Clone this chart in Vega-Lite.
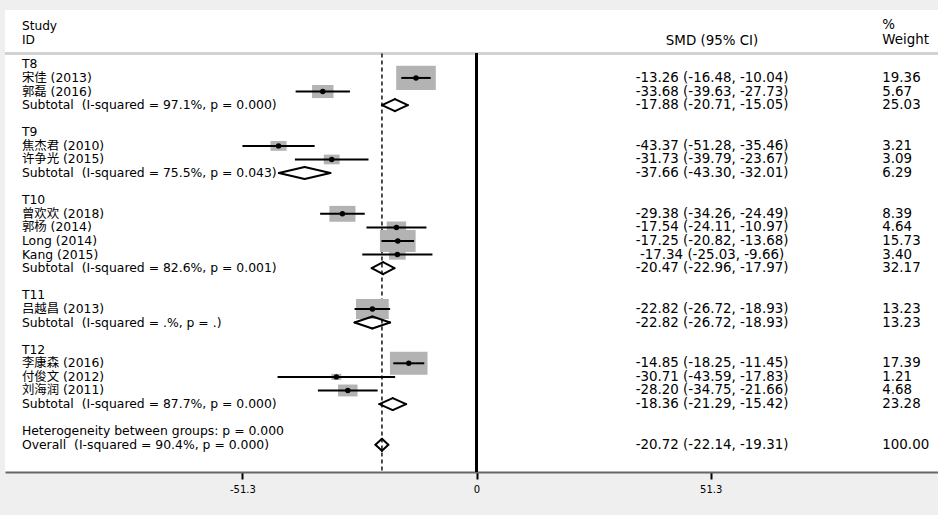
{
  "$schema": "https://vega.github.io/schema/vega-lite/v6.json",
  "width": 933,
  "height": 462,
  "autosize": "none",
  "padding": {"left": 5, "top": 10, "right": 0, "bottom": 43},
  "background": "#efefef",
  "config": {"view": {"fill": "white", "stroke": null}},
  "datasets": {
    "rows": [
      {"row": 0, "type": "group", "label": "T8"},
      {"row": 1, "type": "study", "label": "宋佳 (2013)", "es": -13.26, "lci": -16.48, "uci": -10.04, "w": 19.36, "smd": "-13.26 (-16.48, -10.04)"},
      {"row": 2, "type": "study", "label": "郭磊 (2016)", "es": -33.68, "lci": -39.63, "uci": -27.73, "w": 5.67, "smd": "-33.68 (-39.63, -27.73)"},
      {"row": 3, "type": "subtotal", "label": "Subtotal \u00a0(I-squared = 97.1%, p = 0.000)", "es": -17.88, "lci": -20.71, "uci": -15.05, "w": 25.03, "smd": "-17.88 (-20.71, -15.05)"},
      {"row": 5, "type": "group", "label": "T9"},
      {"row": 6, "type": "study", "label": "焦杰君 (2010)", "es": -43.37, "lci": -51.28, "uci": -35.46, "w": 3.21, "smd": "-43.37 (-51.28, -35.46)"},
      {"row": 7, "type": "study", "label": "许争光 (2015)", "es": -31.73, "lci": -39.79, "uci": -23.67, "w": 3.09, "smd": "-31.73 (-39.79, -23.67)"},
      {"row": 8, "type": "subtotal", "label": "Subtotal \u00a0(I-squared = 75.5%, p = 0.043)", "es": -37.66, "lci": -43.30, "uci": -32.01, "w": 6.29, "smd": "-37.66 (-43.30, -32.01)"},
      {"row": 10, "type": "group", "label": "T10"},
      {"row": 11, "type": "study", "label": "曾欢欢 (2018)", "es": -29.38, "lci": -34.26, "uci": -24.49, "w": 8.39, "smd": "-29.38 (-34.26, -24.49)"},
      {"row": 12, "type": "study", "label": "郭杨 (2014)", "es": -17.54, "lci": -24.11, "uci": -10.97, "w": 4.64, "smd": "-17.54 (-24.11, -10.97)"},
      {"row": 13, "type": "study", "label": "Long (2014)", "es": -17.25, "lci": -20.82, "uci": -13.68, "w": 15.73, "smd": "-17.25 (-20.82, -13.68)"},
      {"row": 14, "type": "study", "label": "Kang (2015)", "es": -17.34, "lci": -25.03, "uci": -9.66, "w": 3.40, "smd": "-17.34 (-25.03, -9.66)"},
      {"row": 15, "type": "subtotal", "label": "Subtotal \u00a0(I-squared = 82.6%, p = 0.001)", "es": -20.47, "lci": -22.96, "uci": -17.97, "w": 32.17, "smd": "-20.47 (-22.96, -17.97)"},
      {"row": 17, "type": "group", "label": "T11"},
      {"row": 18, "type": "study", "label": "吕越昌 (2013)", "es": -22.82, "lci": -26.72, "uci": -18.93, "w": 13.23, "smd": "-22.82 (-26.72, -18.93)"},
      {"row": 19, "type": "subtotal", "label": "Subtotal \u00a0(I-squared = .%, p = .)", "es": -22.82, "lci": -26.72, "uci": -18.93, "w": 13.23, "smd": "-22.82 (-26.72, -18.93)"},
      {"row": 21, "type": "group", "label": "T12"},
      {"row": 22, "type": "study", "label": "李康森 (2016)", "es": -14.85, "lci": -18.25, "uci": -11.45, "w": 17.39, "smd": "-14.85 (-18.25, -11.45)"},
      {"row": 23, "type": "study", "label": "付俊文 (2012)", "es": -30.71, "lci": -43.59, "uci": -17.83, "w": 1.21, "smd": "-30.71 (-43.59, -17.83)"},
      {"row": 24, "type": "study", "label": "刘海润 (2011)", "es": -28.20, "lci": -34.75, "uci": -21.66, "w": 4.68, "smd": "-28.20 (-34.75, -21.66)"},
      {"row": 25, "type": "subtotal", "label": "Subtotal \u00a0(I-squared = 87.7%, p = 0.000)", "es": -18.36, "lci": -21.29, "uci": -15.42, "w": 23.28, "smd": "-18.36 (-21.29, -15.42)"},
      {"row": 27, "type": "het", "label": "Heterogeneity between groups: p = 0.000"},
      {"row": 28, "type": "overall", "label": "Overall \u00a0(I-squared = 90.4%, p = 0.000)", "es": -20.72, "lci": -22.14, "uci": -19.31, "w": 100.00, "smd": "-20.72 (-22.14, -19.31)"}
    ],
    "header": [
      {"col": "label", "row": -2.85, "text": "Study"},
      {"col": "label", "row": -1.8, "text": "ID"},
      {"col": "smd", "row": -1.75, "text": "SMD (95% CI)"},
      {"col": "weight", "row": -2.9, "text": "%"},
      {"col": "weight", "row": -1.8, "text": "Weight"}
    ],
    "overall": [{"es": -20.72}]
  },
  "data": {"name": "rows"},
  "encoding": {
    "y": {"type": "quantitative", "scale": {"domain": [-4, 30], "reverse": true, "nice": false, "zero": false}, "axis": null}
  },
  "layer": [
    {
      "mark": {"type": "rule", "color": "#d2d2d2", "strokeWidth": 2},
      "encoding": {"y": {"datum": -0.79, "type": "quantitative"}}
    },
    {
      "data": {"name": "overall"},
      "mark": {"type": "rule", "color": "#222222", "strokeWidth": 1.6, "strokeDash": [4, 3]},
      "encoding": {
        "x": {"field": "es", "type": "quantitative", "scale": {"domain": [-103.3, 101.1], "nice": false, "zero": false},
              "axis": {"title": null, "values": [-51.3, 0, 51.3], "grid": false, "domainColor": "#666666", "domainWidth": 2,
                       "tickColor": "black", "tickWidth": 2, "tickSize": 7, "labelFont": "DejaVu Sans", "labelFontSize": 10,
                       "labelColor": "black", "labelPadding": 5, "labelExpr": "'' + datum.value"}},
        "y": {"datum": -0.79, "type": "quantitative"},
        "y2": {"datum": 30}
      }
    },
    {
      "mark": {"type": "rule", "color": "black", "strokeWidth": 2},
      "encoding": {
        "x": {"datum": 0, "type": "quantitative"},
        "y": {"datum": -0.79, "type": "quantitative"},
        "y2": {"datum": 30}
      }
    },
    {
      "transform": [{"filter": "datum.type == 'study'"}],
      "mark": {"type": "point", "shape": "M-1,-0.61L1,-0.61L1,0.61L-1,0.61Z", "filled": true, "color": "#b3b3b3", "opacity": 1, "strokeWidth": 0},
      "encoding": {
        "x": {"field": "es", "type": "quantitative"},
        "y": {"field": "row", "type": "quantitative"},
        "size": {"field": "w", "type": "quantitative", "scale": {"type": "linear", "domain": [0, 100], "range": [0, 8100]}, "legend": null}
      }
    },
    {
      "transform": [{"filter": "datum.type == 'study'"}],
      "mark": {"type": "rule", "color": "black", "strokeWidth": 2},
      "encoding": {
        "x": {"field": "lci", "type": "quantitative"},
        "x2": {"field": "uci"},
        "y": {"field": "row", "type": "quantitative"}
      }
    },
    {
      "transform": [{"filter": "datum.type == 'study'"}],
      "mark": {"type": "point", "shape": "circle", "filled": true, "color": "black", "opacity": 1, "size": 30},
      "encoding": {
        "x": {"field": "es", "type": "quantitative"},
        "y": {"field": "row", "type": "quantitative"}
      }
    },
    {
      "transform": [{"filter": "datum.type == 'subtotal' || datum.type == 'overall'"}],
      "mark": {"type": "rule", "color": "black", "strokeWidth": 2, "strokeCap": "round", "y2Offset": -6},
      "encoding": {"x": {"field": "lci", "type": "quantitative"}, "x2": {"field": "es"}, "y": {"field": "row", "type": "quantitative"}, "y2": {"field": "row"}}
    },
    {
      "transform": [{"filter": "datum.type == 'subtotal' || datum.type == 'overall'"}],
      "mark": {"type": "rule", "color": "black", "strokeWidth": 2, "strokeCap": "round", "y2Offset": 6},
      "encoding": {"x": {"field": "lci", "type": "quantitative"}, "x2": {"field": "es"}, "y": {"field": "row", "type": "quantitative"}, "y2": {"field": "row"}}
    },
    {
      "transform": [{"filter": "datum.type == 'subtotal' || datum.type == 'overall'"}],
      "mark": {"type": "rule", "color": "black", "strokeWidth": 2, "strokeCap": "round", "yOffset": -6},
      "encoding": {"x": {"field": "es", "type": "quantitative"}, "x2": {"field": "uci"}, "y": {"field": "row", "type": "quantitative"}, "y2": {"field": "row"}}
    },
    {
      "transform": [{"filter": "datum.type == 'subtotal' || datum.type == 'overall'"}],
      "mark": {"type": "rule", "color": "black", "strokeWidth": 2, "strokeCap": "round", "yOffset": 6},
      "encoding": {"x": {"field": "es", "type": "quantitative"}, "x2": {"field": "uci"}, "y": {"field": "row", "type": "quantitative"}, "y2": {"field": "row"}}
    },
    {
      "mark": {"type": "text", "align": "left", "baseline": "middle", "font": "DejaVu Sans, 'Noto Sans CJK SC'", "fontSize": 12.4, "color": "black"},
      "encoding": {
        "x": {"datum": -99.6, "type": "quantitative"},
        "y": {"field": "row", "type": "quantitative"},
        "text": {"field": "label"}
      }
    },
    {
      "transform": [{"filter": "isValid(datum.smd)"}],
      "mark": {"type": "text", "align": "center", "baseline": "middle", "font": "DejaVu Sans", "fontSize": 13.4, "color": "black"},
      "encoding": {
        "x": {"datum": 51.6, "type": "quantitative"},
        "y": {"field": "row", "type": "quantitative"},
        "text": {"field": "smd"}
      }
    },
    {
      "transform": [{"filter": "isValid(datum.w)"}],
      "mark": {"type": "text", "align": "left", "baseline": "middle", "font": "DejaVu Sans", "fontSize": 13.4, "color": "black"},
      "encoding": {
        "x": {"datum": 88.9, "type": "quantitative"},
        "y": {"field": "row", "type": "quantitative"},
        "text": {"field": "w", "type": "quantitative", "format": ".2f"}
      }
    },
    {
      "data": {"name": "header"},
      "transform": [{"filter": "datum.col == 'label'"}],
      "mark": {"type": "text", "align": "left", "baseline": "middle", "font": "DejaVu Sans", "fontSize": 12.2, "color": "black"},
      "encoding": {"x": {"datum": -99.6, "type": "quantitative"}, "y": {"field": "row", "type": "quantitative"}, "text": {"field": "text"}}
    },
    {
      "data": {"name": "header"},
      "transform": [{"filter": "datum.col == 'smd'"}],
      "mark": {"type": "text", "align": "center", "baseline": "middle", "font": "DejaVu Sans", "fontSize": 13.4, "color": "black"},
      "encoding": {"x": {"datum": 51.6, "type": "quantitative"}, "y": {"field": "row", "type": "quantitative"}, "text": {"field": "text"}}
    },
    {
      "data": {"name": "header"},
      "transform": [{"filter": "datum.col == 'weight'"}],
      "mark": {"type": "text", "align": "left", "baseline": "middle", "font": "DejaVu Sans", "fontSize": 13.4, "color": "black"},
      "encoding": {"x": {"datum": 88.9, "type": "quantitative"}, "y": {"field": "row", "type": "quantitative"}, "text": {"field": "text"}}
    }
  ]
}
